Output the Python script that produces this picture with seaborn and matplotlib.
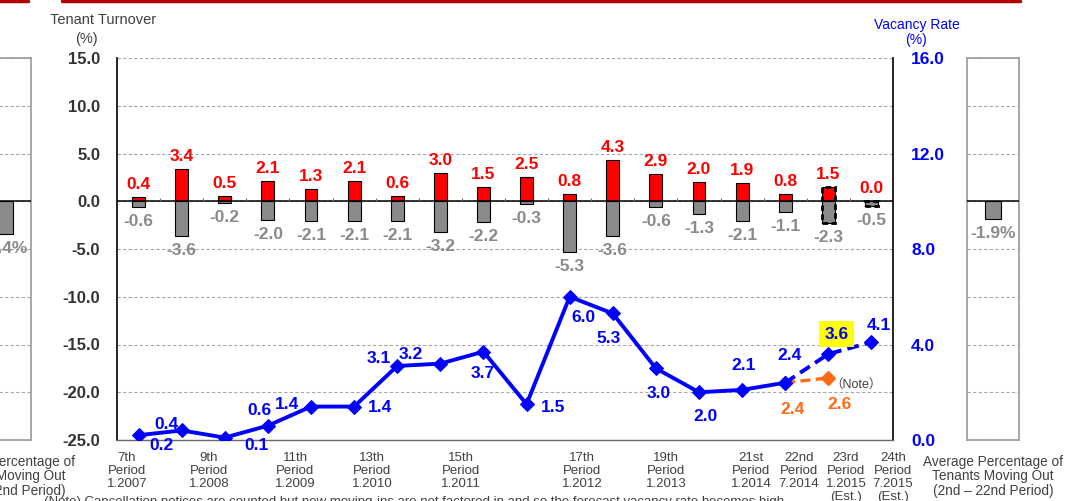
import seaborn as sns
import matplotlib.pyplot as plt
import matplotlib.patches as mpatches
from matplotlib.lines import Line2D
import pandas as pd
import numpy as np

# --- Data ---
periods = ["7th", "8th", "9th", "10th", "11th", "12th", "13th", "14th", "15th",
           "16th", "17th", "18th", "19th", "20th", "21st", "22nd", "23rd", "24th"]
move_in = [0.4, 3.4, 0.5, 2.1, 1.3, 2.1, 0.6, 3.0, 1.5, 2.5, 0.8, 4.3, 2.9, 2.0, 1.9, 0.8, 1.5, 0.0]
move_out = [-0.6, -3.6, -0.2, -2.0, -2.1, -2.1, -2.1, -3.2, -2.2, -0.3, -5.3, -3.6, -0.6, -1.3,
            -2.1, -1.1, -2.3, -0.5]
vacancy = [0.2, 0.4, 0.1, 0.6, 1.4, 1.4, 3.1, 3.2, 3.7, 1.5, 6.0, 5.3, 3.0, 2.0, 2.1, 2.4, 3.6, 4.1]
vacancy_note = [2.4, 2.6]          # 22nd, 23rd (orange, note case)
avg_out_right = -1.9
avg_out_left = -3.4

period_labels = ["7th\nPeriod\n1.2007", "9th\nPeriod\n1.2008", "11th\nPeriod\n1.2009",
                 "13th\nPeriod\n1.2010", "15th\nPeriod\n1.2011", "17th\nPeriod\n1.2012",
                 "19th\nPeriod\n1.2013", "21st\nPeriod\n1.2014", "22nd\nPeriod\n7.2014",
                 "23rd\nPeriod\n1.2015\n(Est.)", "24th\nPeriod\n7.2015\n(Est.)"]
# where the period captions sit along the category axis
period_label_pos = [-0.27, 1.63, 3.63, 5.42, 7.48, 10.29, 12.24, 14.21, 15.32, 16.41, 17.5]

# label offsets (pixels) for the vacancy values
vac_offsets = [(23, -10), (-15, 6), (32, -8), (-8, 15), (-24, 2), (26, -1), (-18, 7), (-30, 9),
               (-1, -22), (27, -3), (14, -21), (-4, -25), (3, -25), (7, -24), (1, 24), (4, 27),
               (8, 20), (7, 17)]

df = pd.DataFrame({"period": periods, "move_in": move_in, "move_out": move_out,
                   "vacancy": vacancy})
n = len(periods)
idx = np.arange(n)

# --- Styling ---
sns.set_style("white")
plt.rcParams["font.family"] = ["Liberation Sans", "Noto Sans CJK JP", "DejaVu Sans"]

RED = "#ff0000"
GRAY = "#8a8a8a"
BLUE = "#0000ff"
ORANGE = "#ff6a13"
TXT = "#404040"
GRID = "#a8a8a8"
LBL = 12.5
W, H = 1068, 501

fig = plt.figure(figsize=(W / 100, H / 100), dpi=100)
ax = fig.add_axes([117 / W, 1 - 440 / H, 776 / W, 382 / H])

# --- Bars ---
sns.barplot(data=df, x="period", y="move_in", color=RED, saturation=1, width=0.3,
            edgecolor="black", linewidth=0.8, ax=ax, zorder=3)
sns.barplot(data=df, x="period", y="move_out", color=GRAY, saturation=1, width=0.3,
            edgecolor="black", linewidth=0.8, ax=ax, zorder=3)

# dashed outlines for estimated periods
for i in (16, 17):
    lo, hi = move_out[i], move_in[i]
    ax.add_patch(mpatches.Rectangle((i - 0.15, lo), 0.3, hi - lo, fill=False,
                                    edgecolor="black", lw=2, ls=(0, (2, 1.2)), zorder=4))

ax.axhline(0, color="black", lw=1.1, zorder=4)
ax.vlines(idx[:-1] + 0.5, 0, 0.35, color="#707070", lw=0.8, zorder=4)

for i in idx:
    ax.annotate(f"{move_in[i]:.1f}", (i, move_in[i]), xytext=(0, 5), textcoords="offset pixels",
                ha="center", va="bottom", color=RED, fontweight="bold", fontsize=LBL)
    ax.annotate(f"{move_out[i]:.1f}", (i, move_out[i]), xytext=(0, -7),
                textcoords="offset pixels", ha="center", va="top", color=GRAY,
                fontweight="bold", fontsize=LBL)

ax.set_ylim(-25, 15)
ax.set_xlim(-0.5, n - 0.5)
ax.set_yticks(np.arange(-25, 16, 5))
ax.set_yticklabels([f"{v:.1f}" for v in np.arange(-25, 16, 5)])
ax.tick_params(axis="y", length=0, pad=12, labelsize=12, labelcolor="#333333")
for lab in ax.get_yticklabels():
    lab.set_fontweight("bold")
ax.set_xticks(period_label_pos)
ax.set_xticklabels(period_labels, fontsize=9.5, color=TXT, linespacing=1.12)
ax.tick_params(axis="x", length=0, pad=8.5)
ax.set_xlabel("")
ax.set_ylabel("")
ax.yaxis.grid(True, linestyle=(0, (3, 2)), color=GRID, lw=0.8, zorder=0)
ax.set_axisbelow(True)
for s in ("left", "right"):
    ax.spines[s].set_color("black")
    ax.spines[s].set_linewidth(1.2)
ax.spines["top"].set_visible(False)
ax.spines["bottom"].set_color("#6a6a6a")
ax.spines["bottom"].set_linewidth(1.0)

# --- Vacancy rate line ---
ax2 = ax.twinx()
sns.lineplot(x=idx[:16], y=vacancy[:16], ax=ax2, color=BLUE, lw=2.8, marker="D",
             markersize=7.5, markeredgecolor=BLUE, zorder=6)
sns.lineplot(x=idx[15:], y=vacancy[15:], ax=ax2, color=BLUE, lw=2.8, ls=(0, (3, 1.6)),
             marker="D", markersize=7.5, markeredgecolor=BLUE, zorder=6)
sns.lineplot(x=[idx[15], idx[16]], y=vacancy_note, ax=ax2, color=ORANGE, lw=2.4,
             ls=(0, (3, 1.6)), zorder=5)
ax2.plot(idx[16], vacancy_note[1], marker="D", markersize=7.5, color=ORANGE, zorder=5)

for i in idx:
    kw = dict(textcoords="offset pixels", ha="center", va="center", color=BLUE,
              fontweight="bold", fontsize=LBL, zorder=7)
    if i == 16:
        kw["bbox"] = dict(boxstyle="square,pad=0.33", fc="#ffff00", ec="none")
    ax2.annotate(f"{vacancy[i]:.1f}", (i, vacancy[i]), xytext=vac_offsets[i], **kw)

for j, (i, off) in enumerate(zip((15, 16), [(7, -27), (11, -27)])):
    ax2.annotate(f"{vacancy_note[j]:.1f}", (i, vacancy_note[j]), xytext=off,
                 textcoords="offset pixels", ha="center", va="center", color=ORANGE,
                 fontweight="bold", fontsize=LBL)
ax2.annotate("（Note）", (16, vacancy_note[1]), xytext=(2, -7), textcoords="offset pixels",
             ha="left", va="center", color=TXT, fontsize=9)

ax2.set_ylim(0, 16)
ax2.set_xlim(-0.5, n - 0.5)
ax2.set_yticks(np.arange(0, 17, 4))
ax2.set_yticklabels([f"{v:.1f}" for v in np.arange(0, 17, 4)])
ax2.tick_params(axis="y", length=0, pad=13, labelsize=12.5, labelcolor=BLUE)
for lab in ax2.get_yticklabels():
    lab.set_fontweight("bold")
ax2.set_ylabel("")
for s in ax2.spines.values():
    s.set_visible(False)


# --- Side panels: average percentage moving out ---
def side_panel(left_px, value):
    sa = fig.add_axes([left_px / W, 1 - 440 / H, 52 / W, 382 / H])
    sns.barplot(x=[0], y=[value], color=GRAY, saturation=1, width=0.3,
                edgecolor="black", linewidth=0.8, ax=sa, zorder=3)
    sa.axhline(0, color="black", lw=1.1, zorder=4)
    sa.annotate(f"{value:.1f}%", (0, value), xytext=(0, -7), textcoords="offset pixels",
                ha="center", va="top", color=GRAY, fontweight="bold", fontsize=LBL)
    sa.set_ylim(-25, 15)
    sa.set_xlim(-0.5, 0.5)
    sa.set_yticks(np.arange(-25, 16, 5))
    sa.yaxis.grid(True, linestyle=(0, (3, 2)), color=GRID, lw=0.8, zorder=0)
    sa.set_axisbelow(True)
    sa.set_xticks([])
    sa.tick_params(axis="y", length=0, labelleft=False)
    sa.set_xlabel("")
    sa.set_ylabel("")
    for s in sa.spines.values():
        s.set_color("#a0a0a0")
        s.set_linewidth(1.3)
    fig.text((left_px + 26) / W, 1 - 455 / H,
             "Average Percentage of\nTenants Moving Out\n(2nd – 22nd Period)",
             ha="center", va="top", fontsize=9.8, color=TXT, linespacing=1.03)


side_panel(967, avg_out_right)
side_panel(-21, avg_out_left)

# --- Titles and notes ---
fig.text(103 / W, 1 - 20 / H, "Tenant Turnover", ha="center", va="center",
         fontsize=10.5, color=TXT)
fig.text(86 / W, 1 - 39 / H, "(%)", ha="center", va="center", fontsize=10.5, color=TXT)
fig.text(917 / W, 1 - 25 / H, "Vacancy Rate", ha="center", va="center",
         fontsize=10, color=BLUE)
fig.text(916 / W, 1 - 40 / H, "(%)", ha="center", va="center", fontsize=10, color=BLUE)
fig.text(44 / W, 1 - 502 / H,
         "(Note) Cancellation notices are counted but new moving-ins are not factored in "
         "and so the forecast vacancy rate becomes high.",
         ha="left", va="center", fontsize=9.5, color=TXT)

# decorative red rule at the top
fig.add_artist(Line2D([0, 28 / W], [1 - 1 / H] * 2, color="#b00000", lw=2.5))
fig.add_artist(Line2D([62 / W, 1020 / W], [1 - 1 / H] * 2, color="#b00000", lw=2.5))

plt.savefig("out.png", dpi=100)
plt.close()
